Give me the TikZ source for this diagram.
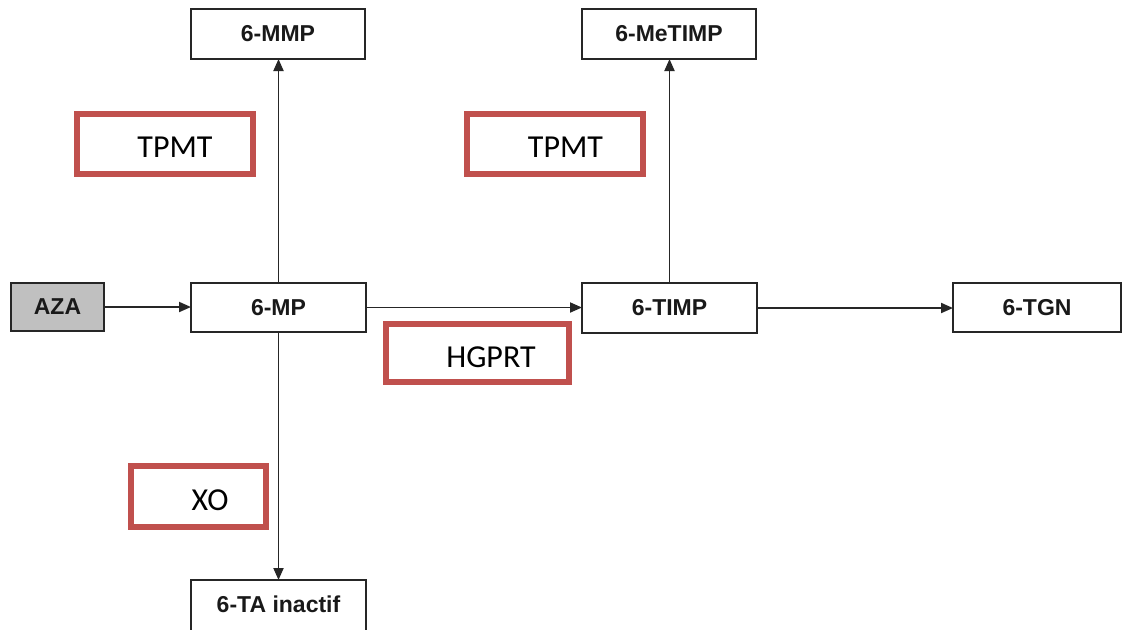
\documentclass[tikz,border=0pt]{standalone}
\usepackage{fontspec}
\setmainfont{Liberation Sans}
\newfontfamily\calib{Carlito}
\usetikzlibrary{arrows.meta}
\definecolor{boxred}{HTML}{C0504D}
\definecolor{azagray}{HTML}{C0C0C0}
\tikzset{
  mol/.style={draw=black!85, line width=2pt, rectangle, inner sep=0pt, outer sep=0pt,
    font=\fontsize{23}{26}\selectfont\bfseries, text=black!90},
  enz/.style={draw=boxred, line width=5.5pt, rectangle, inner sep=0pt, outer sep=0pt},
  enztxt/.style={font=\calib\fontsize{32}{36}\selectfont, anchor=base, inner sep=0pt, text=black},
  conn/.style={line width=1.9pt, draw=black!85, -{Triangle[length=12pt,width=10pt]}},
}
\begin{document}
\begin{tikzpicture}[x=1pt,y=-1pt]
\clip (0,0) rectangle (1126,629);
\fill[white] (0,0) rectangle (1126,629);
% molecule boxes
\node[mol, fill=azagray, minimum width=93pt, minimum height=48pt] (aza) at (57.5,307) {AZA};
\node[mol, minimum width=175pt, minimum height=49pt] (mp) at (278.5,307.5) {6-MP};
\node[mol, minimum width=174pt, minimum height=50pt] (mmp) at (278,34) {6-MMP};
\node[mol, minimum width=175pt, minimum height=54pt, text depth=6pt] (ta) at (278.5,607) {6-TA inactif};
\node[mol, minimum width=175pt, minimum height=50pt] (timp) at (669.5,308) {6-TIMP};
\node[mol, minimum width=174pt, minimum height=50pt] (metimp) at (669,34) {6-MeTIMP};
\node[mol, minimum width=168pt, minimum height=49pt] (tgn) at (1037,307.5) {6-TGN};
% enzyme boxes
\node[enz, minimum width=176pt, minimum height=60pt] (e1) at (165,144) {};
\node[enztxt] (e1t) at (175,157) {TPMT};
\node[enz, minimum width=176pt, minimum height=60pt] (e2) at (555,144) {};
\node[enztxt] (e2t) at (565.5,157) {TPMT};
\node[enz, minimum width=183pt, minimum height=58pt] (e3) at (477.5,353) {};
\node[enztxt] (e3t) at (491,367) {HGPRT};
\node[enz, minimum width=135pt, minimum height=61pt] (e4) at (198.5,496.5) {};
\node[enztxt] (e4t) at (210,510) {XO};
% connectors
\draw[conn] (aza.east) -- (mp.west |- aza.east);
\draw[conn] (mp.east) -- (timp.west |- mp.east);
\draw[conn] (timp.east) -- (tgn.west |- timp.east);
\draw[conn] (mp.north) -- (mp.north |- mmp.south);
\draw[conn] (mp.south) -- (mp.south |- ta.north);
\draw[conn] (timp.north) -- (timp.north |- metimp.south);
\end{tikzpicture}
\end{document}
